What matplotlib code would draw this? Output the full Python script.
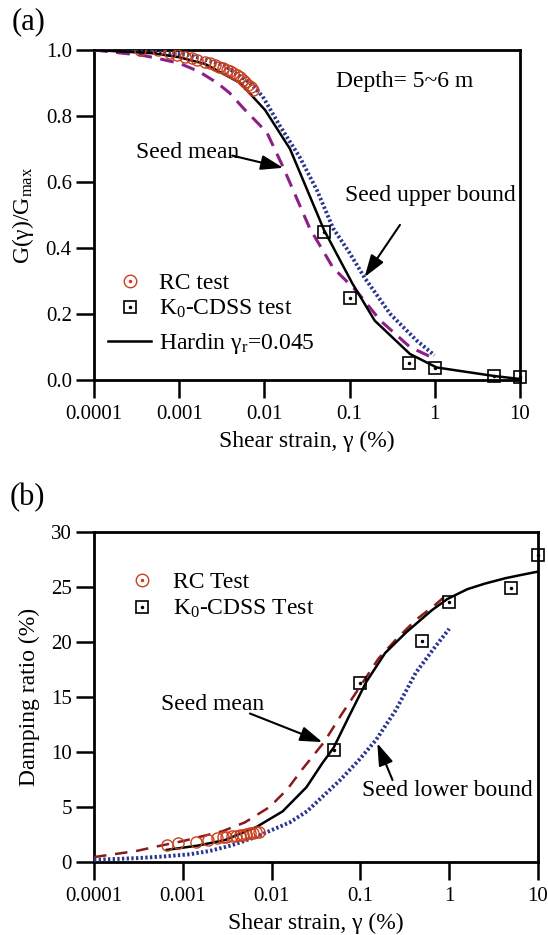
import matplotlib
matplotlib.use("Agg")
import matplotlib.pyplot as plt
from matplotlib.legend_handler import HandlerTuple
from matplotlib.lines import Line2D

plt.rcParams['font.family'] = ['Liberation Serif', 'DejaVu Serif']
plt.rcParams['mathtext.fontset'] = 'custom'
plt.rcParams['mathtext.rm'] = 'Liberation Serif'
plt.rcParams['mathtext.it'] = 'Liberation Serif:italic'
plt.rcParams['font.size'] = 15

# ---------------- data (a) ----------------
rc_strain_a = [0.000347, 0.000564, 0.00078, 0.00095, 0.00117, 0.0014, 0.00162, 0.00201, 0.0023,
               0.00263, 0.0029, 0.00327, 0.0036, 0.00395, 0.0043, 0.00477, 0.0052, 0.00561, 0.006,
               0.00642, 0.0069, 0.00735]
rc_G = [1.0, 1.0, 0.99, 0.985, 0.98, 0.975, 0.97, 0.965, 0.96,
        0.955, 0.95, 0.945, 0.94, 0.935, 0.93, 0.925, 0.918, 0.91, 0.903,
        0.895, 0.888, 0.88]

cdss_strain_a = [0.05, 0.1, 0.5, 1.0, 5.0, 10.0]
cdss_G = [0.448, 0.248, 0.052, 0.035, 0.012, 0.008]

hardin_strain_a = [0.0001, 0.0005, 0.001, 0.002, 0.0052, 0.0102, 0.02, 0.05, 0.107, 0.197, 0.51, 1.05, 5.0, 10.0]
hardin_G = [1.0, 0.99, 0.978, 0.958, 0.90, 0.818, 0.70, 0.455, 0.294, 0.18, 0.079, 0.038, 0.012, 0.003]

seedmean_strain_a = [0.0001, 0.00022, 0.00035, 0.00055, 0.001, 0.0017, 0.0028, 0.0039, 0.0056, 0.0107,
                     0.0166, 0.034, 0.064, 0.12, 0.23, 0.51, 0.95]
seedmean_G = [1.0, 0.99, 0.985, 0.975, 0.96, 0.935, 0.90, 0.87, 0.825, 0.75,
              0.645, 0.46, 0.34, 0.27, 0.18, 0.10, 0.067]

seedub_strain_a = [0.0001, 0.0003, 0.0013, 0.0033, 0.0068, 0.0095, 0.0152, 0.026, 0.0414, 0.064,
                   0.1, 0.15, 0.3, 0.61, 0.99]
seedub_G = [1.0, 1.0, 0.985, 0.955, 0.90, 0.86, 0.77, 0.675, 0.575, 0.46,
            0.385, 0.31, 0.20, 0.12, 0.075]

# ---------------- data (b) ----------------
rc_strain_b = [0.00066, 0.00088, 0.0014, 0.0019, 0.0024, 0.0028, 0.0031, 0.0036, 0.004, 0.0044,
               0.0048, 0.0052, 0.0057, 0.0061, 0.0067, 0.0073]
rc_D = [1.55, 1.75, 1.8, 2.0, 2.2, 2.25, 2.3, 2.35, 2.4, 2.45,
        2.5, 2.55, 2.6, 2.65, 2.7, 2.75]

cdss_strain_b = [0.05, 0.1, 0.5, 1.0, 5.0, 10.0]
cdss_D = [10.2, 16.3, 20.1, 23.6, 24.9, 27.9]

hardin_strain_b = [0.00066, 0.0015, 0.003, 0.0068, 0.0133, 0.0247, 0.0374, 0.05, 0.075, 0.117,
                   0.19, 0.33, 0.64, 0.95, 1.6, 2.5, 4.3, 6.5, 10.0]
hardin_D = [1.1, 1.5, 2.0, 3.2, 4.6, 6.8, 9.0, 10.4, 13.3, 16.4,
            19.0, 20.9, 22.9, 23.9, 24.8, 25.3, 25.8, 26.1, 26.4]

seedmean_strain_b = [0.0001, 0.0003, 0.0005, 0.001, 0.0028, 0.005, 0.0095, 0.015, 0.022, 0.039,
                     0.06, 0.1, 0.16, 0.25, 0.42, 0.7, 1.0]
seedmean_D = [0.45, 1.0, 1.4, 1.9, 2.8, 3.6, 5.0, 6.6, 8.4, 10.9,
              13.3, 16.0, 18.5, 20.2, 22.0, 23.4, 24.5]

seedlb_strain_b = [0.0001, 0.0003, 0.0006, 0.0012, 0.002, 0.0035, 0.0068, 0.01, 0.016, 0.025,
                   0.037, 0.06, 0.097, 0.15, 0.25, 0.42, 0.7, 1.0]
seedlb_D = [0.2, 0.35, 0.5, 0.7, 1.0, 1.5, 2.3, 2.9, 3.6, 4.6,
            5.9, 7.5, 9.3, 11.1, 13.8, 17.2, 19.6, 21.2]

xticks = [0.0001, 0.001, 0.01, 0.1, 1, 10]
xticklabels = ['0.0001', '0.001', '0.01', '0.1', '1', '10']
yticks_a = [0.0, 0.2, 0.4, 0.6, 0.8, 1.0]
yticklabels_a = ['0.0', '0.2', '0.4', '0.6', '0.8', '1.0']
yticks_b = [0, 5, 10, 15, 20, 25, 30]

RED = '#C8401E'
PURPLE = '#8E1F86'
DARKRED = '#8B1A1A'
BLUE = '#2A3590'
FS = 17
ARROW = dict(arrowstyle='-|>,head_length=0.9,head_width=0.3', color='black', lw=1.5,
             shrinkA=0, shrinkB=0)

fig = plt.figure(figsize=(5.48, 9.35), dpi=100)
axa = fig.add_axes([94/548, 1-380/935, (520-94)/548, 330/935])
axb = fig.add_axes([94/548, 1-862/935, (538-94)/548, 330/935])


def style(ax):
    ax.set_xscale('log')
    ax.set_xlim(1e-4, 10)
    ax.set_xticks(xticks)
    ax.set_xticklabels(xticklabels)
    ax.minorticks_off()
    ax.tick_params(axis='both', direction='out', length=13, width=1.8, labelsize=15)
    ax.tick_params(axis='x', pad=5)
    ax.tick_params(axis='y', pad=3)
    ax.tick_params(top=False, right=False)
    for s in ax.spines.values():
        s.set_linewidth(2.0)


h_rc = (Line2D([], [], ls='none', marker='o', ms=9, mfc='none', mec=RED, mew=1.0),
        Line2D([], [], ls='none', marker='.', ms=3, color=RED))
h_sq = (Line2D([], [], ls='none', marker='s', ms=9, mfc='none', mec='black', mew=1.2),
        Line2D([], [], ls='none', marker='.', ms=3, color='black'))
h_hl = Line2D([], [], color='black', lw=1.8)

# ---------- (a) ----------
style(axa)
axa.set_ylim(0, 1.0)
axa.set_yticks(yticks_a)
axa.set_yticklabels(yticklabels_a)
axa.plot(seedmean_strain_a, seedmean_G, color=PURPLE, lw=2.2, dashes=(4.5, 2.8), zorder=3)
axa.plot(seedub_strain_a, seedub_G, color=BLUE, lw=2.8, dashes=(0.6, 0.6), zorder=3)
axa.plot(hardin_strain_a, hardin_G, color='black', lw=1.8, zorder=4)
axa.plot(rc_strain_a, rc_G, 'o', ms=8, mfc='none', mec=RED, mew=1.0, zorder=5)
axa.plot(cdss_strain_a, cdss_G, 's', ms=9, mfc='none', mec='black', mew=1.2, zorder=5, clip_on=False)
axa.plot(cdss_strain_a, cdss_G, '.', ms=3, color='black', zorder=6, clip_on=False)

leg1 = axa.legend([h_rc, h_sq], ['RC test', 'K$_0$-CDSS test'],
                  handler_map={tuple: HandlerTuple(ndivide=1)}, loc='upper left',
                  bbox_to_anchor=(-0.005, 0.375), frameon=False, fontsize=FS,
                  handlelength=1.8, handletextpad=0.35, labelspacing=0.15, borderpad=0.2)
axa.add_artist(leg1)
axa.legend([h_hl], ['Hardin γ$_\\mathrm{r}$=0.045'], loc='upper left',
           bbox_to_anchor=(-0.005, 0.198), frameon=False, fontsize=FS,
           handlelength=1.8, handletextpad=0.35, borderpad=0.2)

axa.set_ylabel('G(γ)/G$_\\mathrm{max}$', fontsize=FS, labelpad=7)
axa.set_xlabel('Shear strain, γ (%)', fontsize=FS, labelpad=5)
axa.text(0.73, 0.905, 'Depth= 5~6 m', transform=axa.transAxes, ha='center', va='center', fontsize=FS)
axa.text(0.00127, 0.69, 'Seed mean', ha='center', va='center', fontsize=FS)
axa.annotate('', xy=(0.0166, 0.643), xytext=(0.0042, 0.68), arrowprops=ARROW)
axa.text(0.88, 0.56, 'Seed upper bound', ha='center', va='center', fontsize=FS)
axa.annotate('', xy=(0.15, 0.312), xytext=(0.39, 0.47), arrowprops=ARROW)

# ---------- (b) ----------
style(axb)
axb.set_ylim(0, 30)
axb.set_yticks(yticks_b)
axb.plot(seedmean_strain_b, seedmean_D, color=DARKRED, lw=1.8, dashes=(5, 3.5), zorder=3)
axb.plot(seedlb_strain_b, seedlb_D, color=BLUE, lw=2.8, dashes=(0.6, 0.6), zorder=3)
axb.plot(hardin_strain_b, hardin_D, color='black', lw=1.8, zorder=4)
axb.plot(rc_strain_b, rc_D, 'o', ms=8, mfc='none', mec=RED, mew=1.0, zorder=5)
axb.plot(cdss_strain_b, cdss_D, 's', ms=9, mfc='none', mec='black', mew=1.2, zorder=5, clip_on=False)
axb.plot(cdss_strain_b, cdss_D, '.', ms=3, color='black', zorder=6, clip_on=False)

axb.legend([h_rc, h_sq], ['RC Test', 'K$_0$-CDSS Test'],
           handler_map={tuple: HandlerTuple(ndivide=1)}, loc='upper left',
           bbox_to_anchor=(0.045, 0.93), frameon=False, fontsize=FS,
           handlelength=1.0, handletextpad=0.8, labelspacing=0.2, borderpad=0.2)

axb.set_ylabel('Damping ratio (%)', fontsize=FS, labelpad=8)
axb.set_xlabel('Shear strain, γ (%)', fontsize=FS, labelpad=5)
axb.text(0.00217, 14.3, 'Seed mean', ha='center', va='center', fontsize=FS)
axb.annotate('', xy=(0.0373, 10.9), xytext=(0.0057, 13.5), arrowprops=ARROW)
axb.text(0.95, 6.5, 'Seed lower bound', ha='center', va='center', fontsize=FS)
axb.annotate('', xy=(0.155, 10.8), xytext=(0.23, 7.45), arrowprops=ARROW)

fig.text(0.022, 0.977, '(a)', fontsize=22, ha='left', va='center')
fig.text(0.018, 0.468, '(b)', fontsize=22, ha='left', va='center')

fig.savefig('out.png', dpi=100)
